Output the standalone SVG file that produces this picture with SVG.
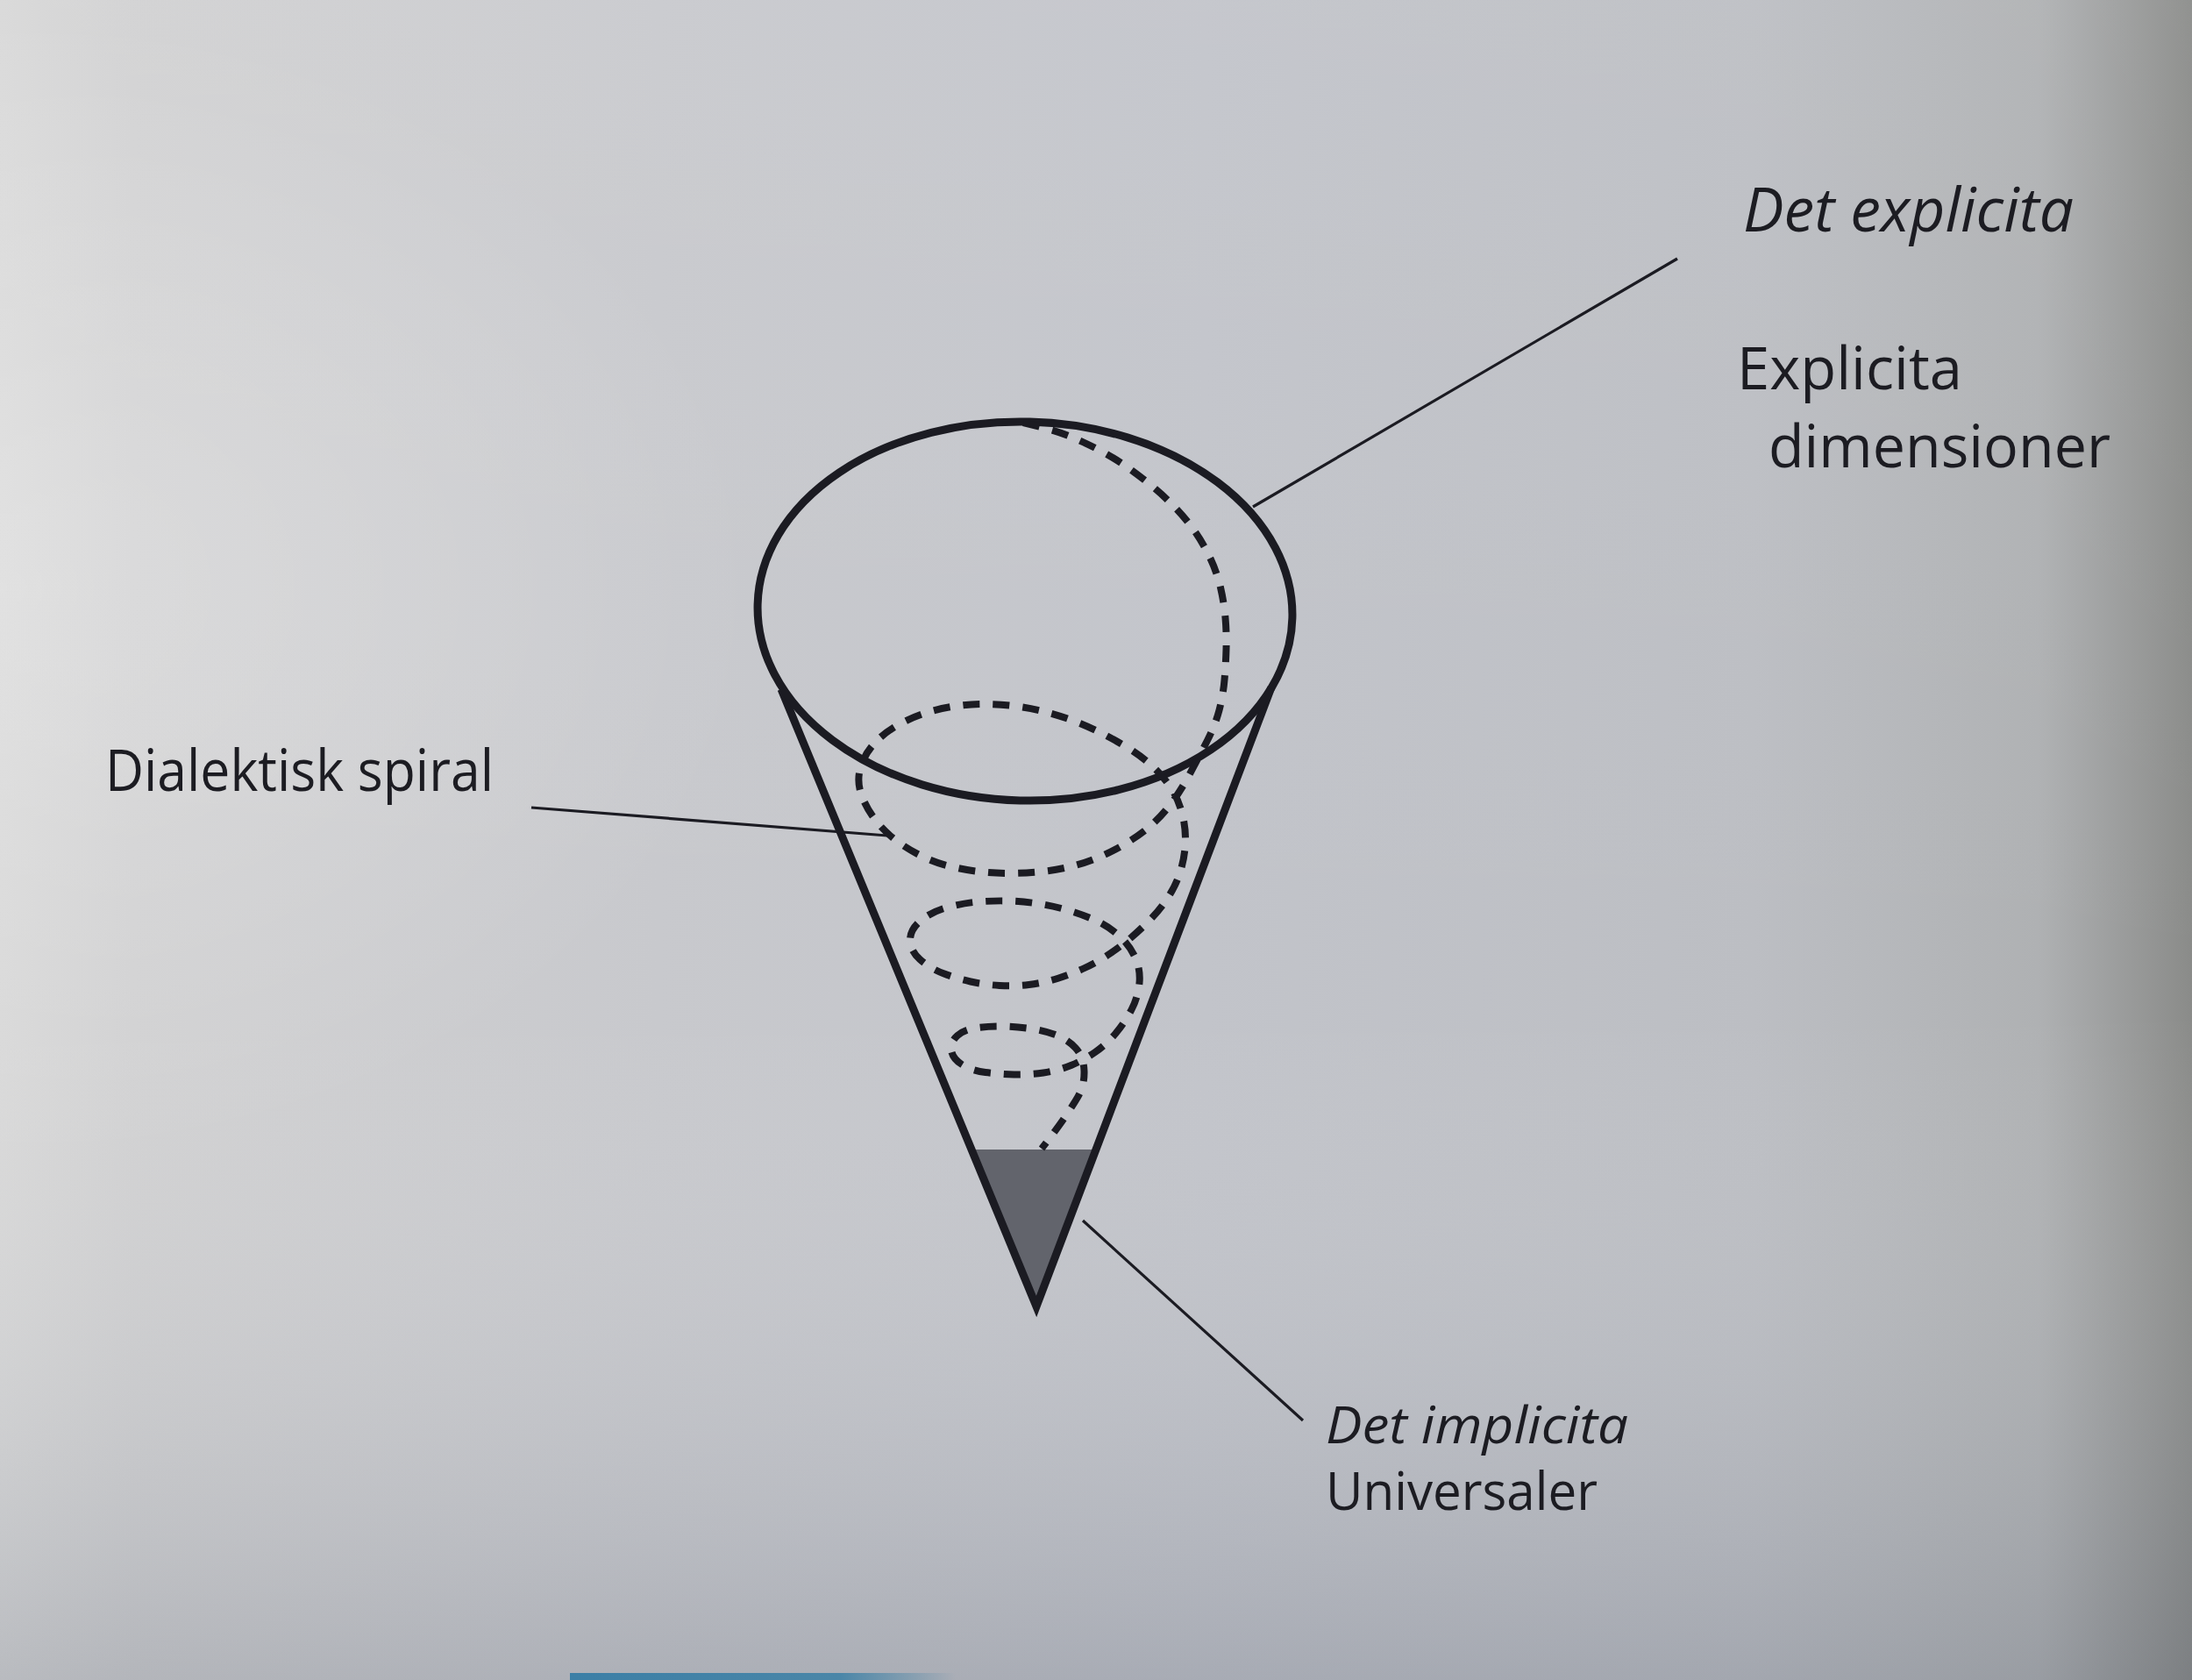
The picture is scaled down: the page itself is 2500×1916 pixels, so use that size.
<svg xmlns="http://www.w3.org/2000/svg" width="2500" height="1916" viewBox="0 0 2500 1916">
  <defs>
    <linearGradient id="bgH" x1="0" y1="0" x2="1" y2="0">
      <stop offset="0" stop-color="#d8d8d8"/>
      <stop offset="0.06" stop-color="#d1d1d2"/>
      <stop offset="0.3" stop-color="#c8c9cd"/>
      <stop offset="0.55" stop-color="#c2c4ca"/>
      <stop offset="0.8" stop-color="#bcbec3"/>
      <stop offset="0.93" stop-color="#afb1b3"/>
      <stop offset="1" stop-color="#8a8b89"/>
    </linearGradient>
    <linearGradient id="bgV" x1="0" y1="0" x2="0" y2="1">
      <stop offset="0" stop-color="#ffffff" stop-opacity="0.06"/>
      <stop offset="0.6" stop-color="#ffffff" stop-opacity="0"/>
      <stop offset="1" stop-color="#4a5468" stop-opacity="0.22"/>
    </linearGradient>
    <radialGradient id="bgL" cx="0" cy="0.35" r="0.35">
      <stop offset="0" stop-color="#ffffff" stop-opacity="0.22"/>
      <stop offset="1" stop-color="#ffffff" stop-opacity="0"/>
    </radialGradient>
    <linearGradient id="bar" x1="0" y1="0" x2="1" y2="0">
      <stop offset="0" stop-color="#3b7fa6"/>
      <stop offset="0.7" stop-color="#4a86a8"/>
      <stop offset="1" stop-color="#4a86a8" stop-opacity="0"/>
    </linearGradient>
  </defs>
  <style>
    .solid { fill: none; stroke: #1b1b22; stroke-width: 9; }
    .dash { fill: none; stroke: #1b1b22; stroke-width: 8; stroke-dasharray: 19 15; }
    .leader { fill: none; stroke: #1b1b22; stroke-width: 3.2; }
    .lbl { font-family: "Open Sans", "Noto Sans", "DejaVu Sans", sans-serif; fill: #1c1c22; font-weight: 500; }
    .it { font-style: italic; }
  </style>

  <g id="background">
    <rect x="0" y="0" width="2500" height="1916" fill="url(#bgH)"/>
    <rect x="0" y="0" width="2500" height="1916" fill="url(#bgL)"/>
    <rect x="0" y="0" width="2500" height="1916" fill="url(#bgV)"/>
    <rect x="650" y="1908" width="440" height="8" fill="url(#bar)"/>
  </g>

  <g id="cone">
    <polygon points="1108,1311 1250,1311 1182,1490" fill="#62646c"/>
    <path class="solid" stroke-linejoin="miter" stroke-miterlimit="10" d="M891,786 L1182,1490 L1450,784"/>
    <ellipse class="solid" cx="1169" cy="697" rx="305" ry="216" transform="rotate(1.5 1169 697)"/>
  </g>

  <g id="spiral">
    <path class="dash" d="M1167,482 L1187,487 Q1207,492 1223.5,499 Q1240,506 1256,514.5 Q1272,523 1286,533 Q1300,543 1314,554.5 Q1328,566 1340.5,579 Q1353,592 1363,606.5 Q1373,621 1380.5,637 Q1388,653 1392,670 Q1396,687 1397.5,704.5 Q1399,722 1398.5,740 Q1398,758 1396.5,775.5 Q1395,793 1390.5,810 Q1386,827 1377,844.5 Q1368,862 1356.5,883.5 Q1345,905 1332.5,920.5 Q1320,936 1306.5,946.5 Q1293,957 1278,965.5 Q1263,974 1247.5,980 Q1232,986 1216,989.5 Q1200,993 1183.5,994.5 Q1167,996 1150,996 Q1133,996 1116.5,994 Q1100,992 1083.5,988 Q1067,984 1051.5,976.5 Q1036,969 1022,958.5 Q1008,948 997.5,934 Q987,920 982,905 Q977,890 981.5,875 Q986,860 997,848 Q1008,836 1024,827 Q1040,818 1056,813 Q1072,808 1088.5,805.5 Q1105,803 1121.5,803 Q1138,803 1155,805 Q1172,807 1188.5,811 Q1205,815 1221.5,821 Q1238,827 1253,834.5 Q1268,842 1282.5,850.5 Q1297,859 1309.5,869.5 Q1322,880 1332,893.5 Q1342,907 1347,923.5 Q1352,940 1352,956.5 Q1352,973 1347.5,989.5 Q1343,1006 1334,1020.5 Q1325,1035 1314,1046.5 Q1303,1058 1291.5,1068 Q1280,1078 1266,1087.5 Q1252,1097 1237,1104 Q1222,1111 1206,1116 Q1190,1121 1173.5,1123 Q1157,1125 1140,1124 Q1123,1123 1107,1119.5 Q1091,1116 1075.5,1110 Q1060,1104 1049,1094 Q1038,1084 1038,1072 Q1038,1060 1050,1050 Q1062,1040 1080,1035 Q1098,1030 1115.5,1028.5 Q1133,1027 1150,1027.5 Q1167,1028 1183.5,1030.5 Q1200,1033 1216,1037.5 Q1232,1042 1247,1048.5 Q1262,1055 1274.5,1065.5 Q1287,1076 1294,1090.5 Q1301,1105 1299.5,1121 Q1298,1137 1290.5,1151.5 Q1283,1166 1272.5,1178.5 Q1262,1191 1249,1200 Q1236,1209 1221.5,1215 Q1207,1221 1190,1223.5 Q1173,1226 1156.5,1225.5 Q1140,1225 1124,1223 Q1108,1221 1097,1214 Q1086,1207 1085,1197.5 Q1084,1188 1092,1181 Q1100,1174 1115,1172 Q1130,1170 1145,1170.5 Q1160,1171 1175,1173 Q1190,1175 1203.5,1180 Q1217,1185 1226.5,1195 Q1236,1205 1236.5,1221.5 Q1237,1238 1229,1251.5 Q1221,1265 1211.5,1278.5 Q1202,1292 1188,1310"/>
  </g>

  <g id="connectors">
    <line class="leader" x1="1429" y1="578" x2="1913" y2="295"/>
    <line class="leader" x1="606" y1="921" x2="1012" y2="953"/>
    <line class="leader" x1="1235" y1="1392" x2="1486" y2="1620"/>
  </g>

  <g id="label-det-explicita">
    <text class="lbl it" x="1988" y="264" font-size="70" textLength="377" lengthAdjust="spacingAndGlyphs">Det explicita</text>
  </g>
  <g id="label-explicita-dimensioner">
    <text class="lbl" x="1981" y="444" font-size="68" textLength="257" lengthAdjust="spacingAndGlyphs">Explicita</text>
    <text class="lbl" x="2017" y="533" font-size="68" textLength="390" lengthAdjust="spacingAndGlyphs">dimensioner</text>
  </g>
  <g id="label-dialektisk-spiral">
    <text class="lbl" x="120" y="902" font-size="66" textLength="443" lengthAdjust="spacingAndGlyphs">Dialektisk spiral</text>
  </g>
  <g id="label-det-implicita">
    <text class="lbl it" x="1512" y="1646" font-size="58" textLength="345" lengthAdjust="spacingAndGlyphs">Det implicita</text>
    <text class="lbl" x="1512" y="1722" font-size="60" textLength="310" lengthAdjust="spacingAndGlyphs">Universaler</text>
  </g>
</svg>
